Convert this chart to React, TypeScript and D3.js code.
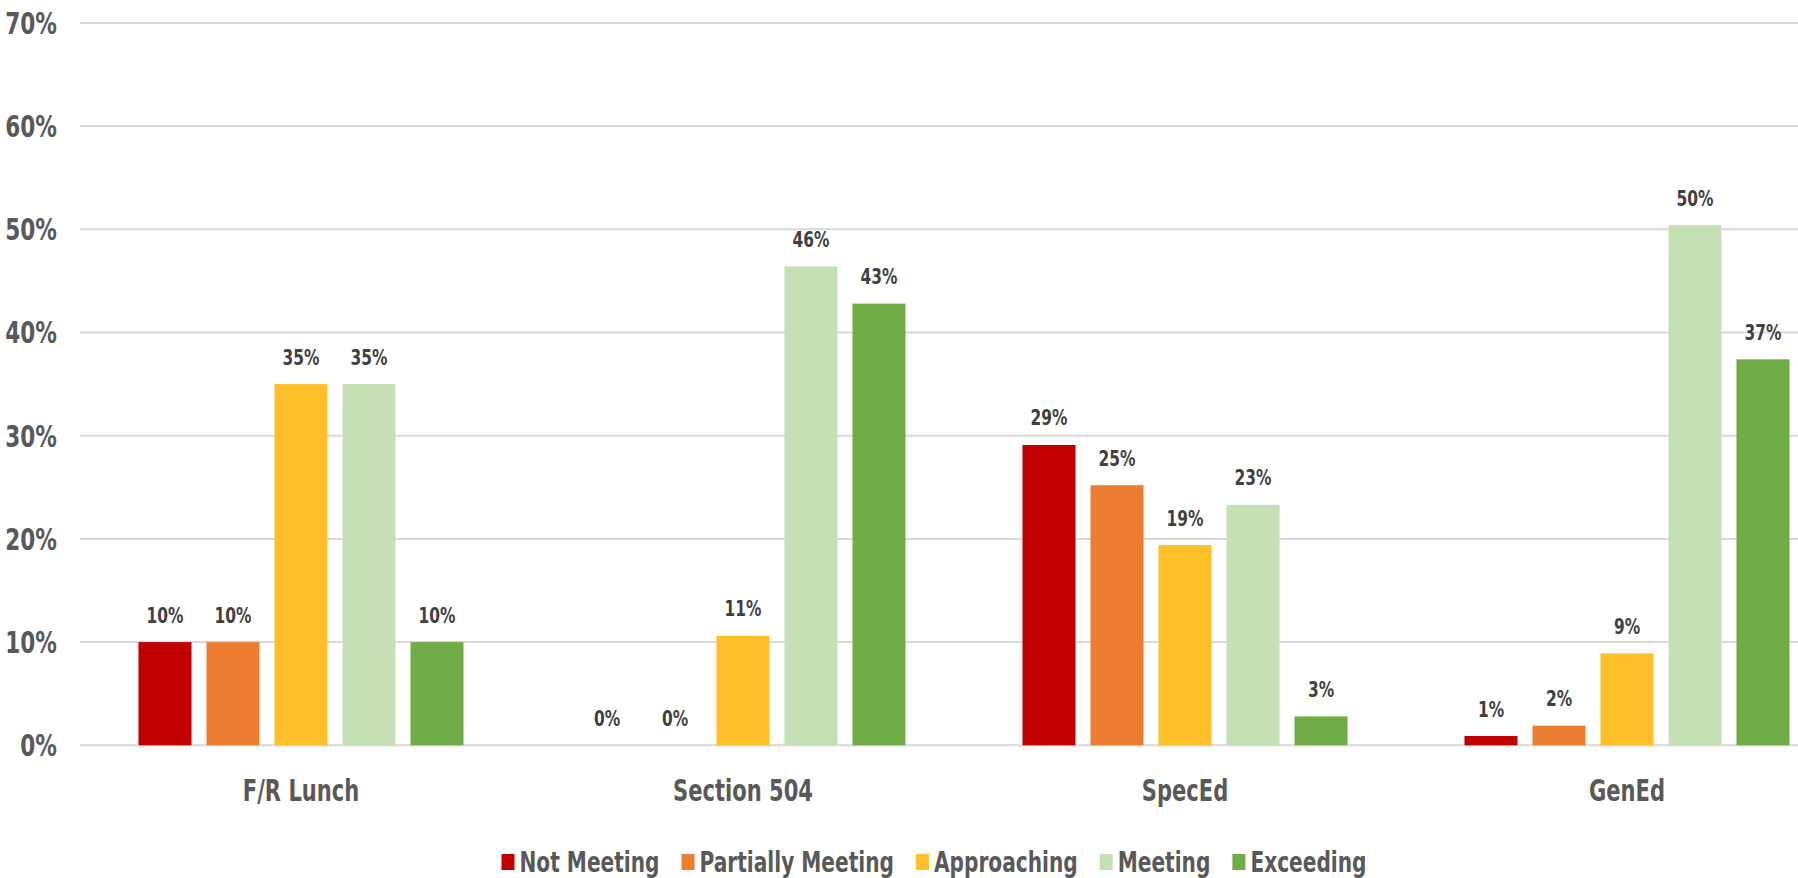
import React, { useEffect, useRef } from "react";
import * as d3 from "d3";

// ---- data ----
const categories = ["F/R Lunch", "Section 504", "SpecEd", "GenEd"];
const seriesNames = ["Not Meeting", "Partially Meeting", "Approaching", "Meeting", "Exceeding"];
const seriesColors = ["#C00000", "#ED7D31", "#FFBF29", "#C5E0B4", "#70AD47"];
const notMeeting = [10, 0, 29.1, 0.9];
const partiallyMeeting = [10, 0, 25.2, 1.9];
const approaching = [35, 10.6, 19.4, 8.9];
const meeting = [35, 46.4, 23.3, 50.4];
const exceeding = [10, 42.8, 2.8, 37.4];
const yTicks = [0, 10, 20, 30, 40, 50, 60, 70];

const seriesValues = [notMeeting, partiallyMeeting, approaching, meeting, exceeding];

const W = 1798;
const H = 878;
const FONT = "'Liberation Sans Narrow', 'Arial Narrow', 'DejaVu Sans Condensed', sans-serif";
const SX = 0.78;
const LEG_SX = 0.8;

export default function App() {
  const ref = useRef<SVGSVGElement | null>(null);

  useEffect(() => {
    const svg = d3.select(ref.current);
    svg.selectAll("*").remove();

    const x0 = d3.scaleBand<string>().domain(categories).range([80, 1848]).paddingInner(0).paddingOuter(0);
    const x1 = d3
      .scaleBand<string>()
      .domain(seriesNames)
      .range([0, x0.bandwidth()])
      .paddingInner(0.22)
      .paddingOuter(0.86);
    const y = d3.scaleLinear().domain([0, 70]).range([745.3, 22.9]);

    // gridlines
    svg
      .append("g")
      .selectAll("line")
      .data(yTicks)
      .join("line")
      .attr("x1", 80)
      .attr("x2", W)
      .attr("y1", (d) => y(d))
      .attr("y2", (d) => y(d))
      .attr("stroke", "#D9D9D9")
      .attr("stroke-width", 2);

    // y tick labels
    svg
      .append("g")
      .selectAll("text")
      .data(yTicks)
      .join("text")
      .attr("transform", (d) => `translate(57,${y(d)}) scale(0.8,1)`)
      .attr("dy", "0.36em")
      .attr("text-anchor", "end")
      .attr("font-family", FONT)
      .attr("font-weight", "bold")
      .attr("font-size", 30)
      .attr("fill", "#595959")
      .text((d) => `${d}%`);

    // bars
    const rows = categories.flatMap((c, ci) =>
      seriesNames.map((s, si) => ({ c, s, si, v: seriesValues[si][ci] }))
    );

    const g = svg.append("g");
    g.selectAll("rect")
      .data(rows)
      .join("rect")
      .attr("x", (d) => (x0(d.c) as number) + (x1(d.s) as number))
      .attr("width", x1.bandwidth())
      .attr("y", (d) => y(d.v))
      .attr("height", (d) => y(0) - y(d.v))
      .attr("fill", (d) => seriesColors[d.si]);

    g.selectAll("text")
      .data(rows)
      .join("text")
      .attr(
        "transform",
        (d) =>
          `translate(${(x0(d.c) as number) + (x1(d.s) as number) + x1.bandwidth() / 2},${y(d.v) - 19.5}) scale(${SX},1)`
      )
      .attr("text-anchor", "middle")
      .attr("font-family", FONT)
      .attr("font-weight", "bold")
      .attr("font-size", 22)
      .attr("fill", "#404040")
      .text((d) => `${Math.round(d.v)}%`);

    // category labels
    svg
      .append("g")
      .selectAll("text")
      .data(categories)
      .join("text")
      .attr("transform", (d) => `translate(${(x0(d) as number) + x0.bandwidth() / 2},801) scale(${SX},1)`)
      .attr("text-anchor", "middle")
      .attr("font-family", FONT)
      .attr("font-weight", "bold")
      .attr("font-size", 30)
      .attr("fill", "#595959")
      .text((d) => d);

    // legend
    const leg = svg.append("g");
    const items = leg.selectAll("g").data(seriesNames).join("g");
    items
      .append("rect")
      .attr("x", 0)
      .attr("y", 854)
      .attr("width", 13)
      .attr("height", 16)
      .attr("fill", (d, i) => seriesColors[i]);
    const texts = items
      .append("text")
      .attr("transform", `translate(18,871.5) scale(${LEG_SX},1)`)
      .attr("font-family", FONT)
      .attr("font-weight", "bold")
      .attr("font-size", 28)
      .attr("fill", "#595959")
      .text((d) => d);
    const widths: number[] = [];
    texts.each(function () {
      widths.push((this as SVGTextElement).getComputedTextLength() * LEG_SX + 18);
    });
    const gap = 22;
    const total = d3.sum(widths) + gap * (widths.length - 1);
    let cx = 934 - total / 2;
    items.each(function (_d, i) {
      d3.select(this).attr("transform", `translate(${cx},0)`);
      cx += widths[i] + gap;
    });
  }, []);

  return (
    <svg
      ref={ref}
      width={W}
      height={H}
      style={{ position: "absolute", left: 0, top: 0, background: "#ffffff" }}
    />
  );
}
